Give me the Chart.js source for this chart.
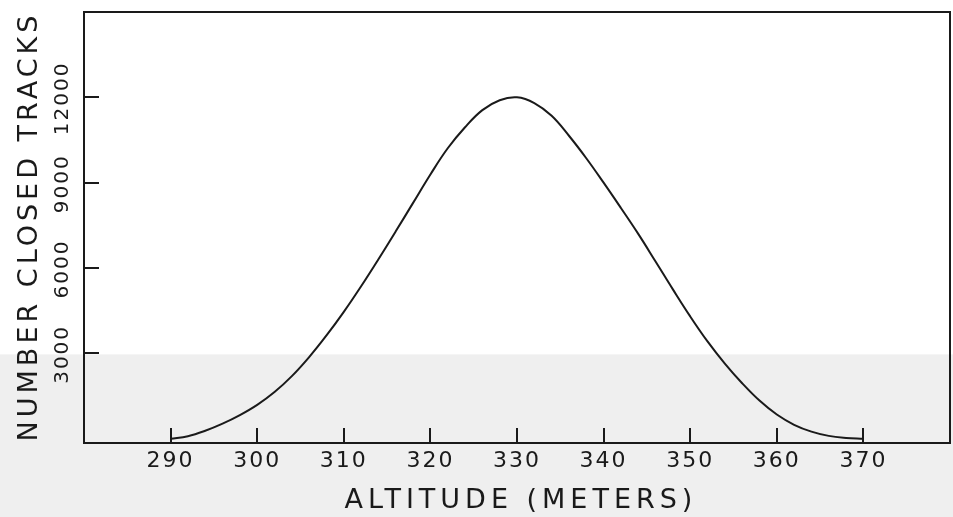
<!DOCTYPE html>
<html>
<head>
<meta charset="utf-8">
<script src="https://cdn.jsdelivr.net/npm/chart.js@4"></script>
<style>
    html, body { margin: 0; padding: 0; background: #fff; }
    #wrap { width: 953px; height: 517px; position: relative; }
</style>
</head>
<body>
<div id="wrap"><canvas id="chart" width="953" height="517"></canvas></div>
<script>
// altitude in meters
var altitudes = [290, 292, 294, 296, 298, 300, 302, 304, 306, 308,
                 310, 312, 314, 316, 318, 320, 322, 324, 326, 328,
                 330, 332, 334, 336, 338, 340, 342, 344, 346, 348,
                 350, 352, 354, 356, 358, 360, 362, 364, 366, 368, 370];

// number of closed tracks
var closedTracks = [0, 90, 280, 530, 830, 1190, 1640, 2200, 2870, 3630,
                    4460, 5360, 6310, 7290, 8290, 9290, 10210, 10950, 11550, 11900,
                    12000, 11800, 11350, 10650, 9860, 9000, 8110, 7200, 6230, 5250,
                    4300, 3420, 2640, 1950, 1340, 850, 490, 250, 100, 30, 0];

var xTicks = [290, 300, 310, 320, 330, 340, 350, 360, 370];
var yTicks = [3000, 6000, 9000, 12000];

var xTitle = 'ALTITUDE (METERS)';
var yTitle = 'NUMBER CLOSED TRACKS';

var inkColor = '#1a1a1a';
var fontFamily = '"DejaVu Sans", "Liberation Sans", sans-serif';

var paperPlugin = {
    id: 'paper',
    beforeDraw: function (chart) {
        var ctx = chart.ctx;
        var yScale = chart.scales.y;
        var bandTop = yScale.getPixelForValue(3000);
        ctx.save();
        ctx.fillStyle = '#ffffff';
        ctx.fillRect(0, 0, chart.width, chart.height);
        ctx.fillStyle = '#efefef';
        ctx.fillRect(0, bandTop + 1, chart.width, chart.height - bandTop);
        ctx.restore();
        ctx.letterSpacing = '2px';
    },
    afterDraw: function (chart) {
        var ctx = chart.ctx;
        var area = chart.chartArea;
        var xScale = chart.scales.x;
        var yScale = chart.scales.y;
        var tickLen = 15;

        ctx.save();
        ctx.strokeStyle = inkColor;
        ctx.lineWidth = 2;
        ctx.strokeRect(Math.round(area.left), Math.round(area.top),
            Math.round(area.right - area.left), Math.round(area.bottom - area.top));

        ctx.beginPath();
        xScale.ticks.forEach(function (t) {
            var px = Math.round(xScale.getPixelForValue(t.value));
            ctx.moveTo(px, area.bottom);
            ctx.lineTo(px, area.bottom - tickLen);
        });
        yScale.ticks.forEach(function (t) {
            var py = Math.round(yScale.getPixelForValue(t.value));
            ctx.moveTo(area.left, py);
            ctx.lineTo(area.left + tickLen, py);
        });
        ctx.stroke();

        ctx.fillStyle = inkColor;
        ctx.textAlign = 'center';
        ctx.textBaseline = 'middle';

        // y tick labels, rotated
        ctx.font = '20px ' + fontFamily;
        ctx.letterSpacing = '2px';
        yScale.ticks.forEach(function (t) {
            var py = yScale.getPixelForValue(t.value);
            ctx.save();
            ctx.translate(area.left - 21, py + 1);
            ctx.rotate(-Math.PI / 2);
            ctx.fillText(String(t.value), 0, 0);
            ctx.restore();
        });

        // y title
        ctx.font = '27px ' + fontFamily;
        ctx.letterSpacing = '4px';
        ctx.save();
        ctx.translate(30, (area.top + area.bottom) / 2 - 1);
        ctx.rotate(-Math.PI / 2);
        ctx.fillText(yTitle, 0, 0);
        ctx.restore();

        // x title
        ctx.font = '27px ' + fontFamily;
        ctx.letterSpacing = '5px';
        ctx.fillText(xTitle, (area.left + area.right) / 2 + 4, 501);

        ctx.restore();
    }
};

var ctx = document.getElementById('chart').getContext('2d');

var myChart = new Chart(ctx, {
    type: 'line',
    data: {
        datasets: [{
            label: 'Closed tracks',
            data: altitudes.map(function (a, i) { return { x: a, y: closedTracks[i] }; }),
            borderColor: inkColor,
            borderWidth: 2,
            pointRadius: 0,
            fill: false,
            tension: 0.4
        }]
    },
    options: {
        responsive: false,
        animation: false,
        devicePixelRatio: 1,
        layout: {
            padding: { top: 12, right: 3, left: 0, bottom: 0 }
        },
        plugins: {
            legend: { display: false },
            tooltip: { enabled: false }
        },
        scales: {
            x: {
                type: 'linear',
                min: 280,
                max: 380,
                afterBuildTicks: function (scale) {
                    scale.ticks = xTicks.map(function (v) { return { value: v }; });
                },
                afterFit: function (scale) {
                    scale.height = 74;
                },
                grid: { display: false, drawTicks: false },
                border: { display: false },
                ticks: {
                    color: inkColor,
                    padding: 5,
                    maxRotation: 0,
                    font: { size: 22, family: fontFamily }
                }
            },
            y: {
                type: 'linear',
                min: -150,
                max: 15000,
                afterBuildTicks: function (scale) {
                    scale.ticks = yTicks.map(function (v) { return { value: v }; });
                },
                afterFit: function (scale) {
                    scale.width = 84;
                },
                grid: { display: false, drawTicks: false },
                border: { display: false },
                ticks: { display: false }
            }
        }
    },
    plugins: [paperPlugin]
});
</script>
</body>
</html>
